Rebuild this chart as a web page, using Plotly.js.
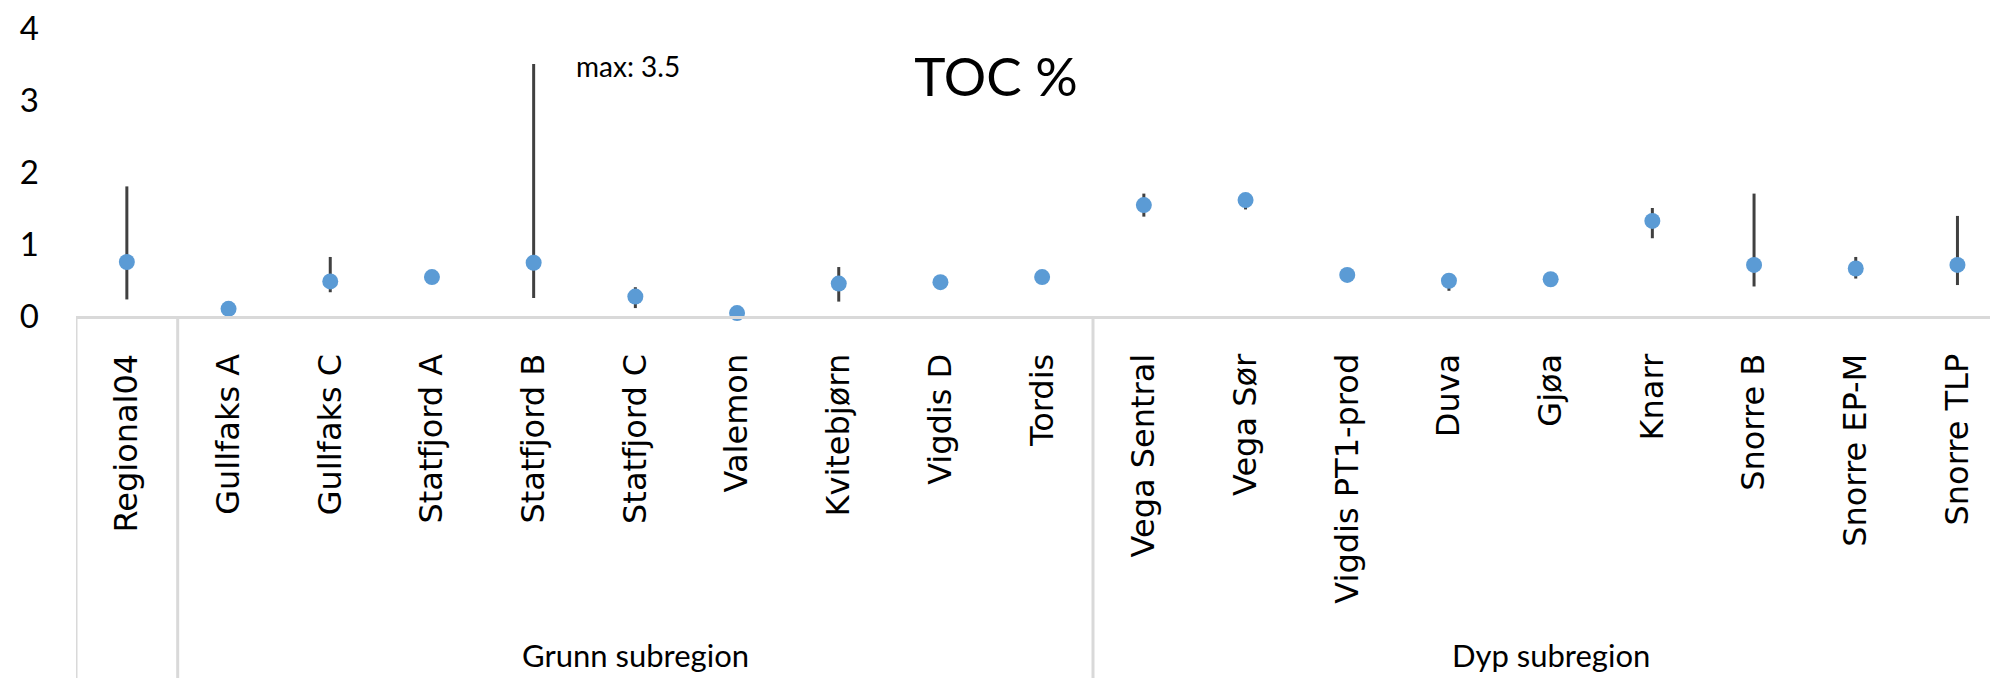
<!DOCTYPE html>
<html>
<head>
<meta charset="utf-8">
<script src="https://cdn.plot.ly/plotly-3.0.1.min.js"></script>
<style>
  html, body { margin: 0; padding: 0; background: #ffffff; }
  #chart { width: 1990px; height: 678px; }
</style>
</head>
<body>
<div id="chart"></div>
<script>
// ---- Data ----
const categories = [
  "Regional04",
  "Gullfaks A", "Gullfaks C", "Statfjord A", "Statfjord B", "Statfjord C",
  "Valemon", "Kvitebjørn", "Vigdis D", "Tordis",
  "Vega Sentral", "Vega Sør", "Vigdis PT1-prod", "Duva", "Gjøa",
  "Knarr", "Snorre B", "Snorre EP-M", "Snorre TLP"
];
const groups = [
  "",
  "Grunn subregion", "Grunn subregion", "Grunn subregion", "Grunn subregion", "Grunn subregion",
  "Grunn subregion", "Grunn subregion", "Grunn subregion", "Grunn subregion",
  "Dyp subregion", "Dyp subregion", "Dyp subregion", "Dyp subregion", "Dyp subregion",
  "Dyp subregion", "Dyp subregion", "Dyp subregion", "Dyp subregion"
];
const tocMean = [0.75, 0.10, 0.48, 0.54, 0.74, 0.27, 0.04, 0.45, 0.47, 0.54,
                 1.54, 1.61, 0.57, 0.49, 0.51, 1.32, 0.71, 0.66, 0.71];
const tocMax  = [1.80, 0.10, 0.82, 0.54, 3.50, 0.40, 0.04, 0.68, 0.47, 0.54,
                 1.70, 1.61, 0.57, 0.59, 0.51, 1.50, 1.70, 0.82, 1.39];
const tocMin  = [0.23, 0.10, 0.33, 0.54, 0.25, 0.11, 0.04, 0.20, 0.47, 0.54,
                 1.38, 1.48, 0.52, 0.35, 0.51, 1.08, 0.41, 0.52, 0.43];
const yTicks = [0, 1, 2, 3, 4];
const chartTitle = "TOC %";

// ---- Build ----
const idx = categories.map((_, i) => i);
const errPlus = tocMean.map((m, i) => tocMax[i] - m);
const errMinus = tocMean.map((m, i) => m - tocMin[i]);

const trace = {
  type: "scatter",
  mode: "markers",
  x: idx,
  y: tocMean,
  cliponaxis: false,
  marker: { color: "#5B9BD5", size: 16, symbol: "circle" },
  error_y: {
    type: "data",
    symmetric: false,
    array: errPlus,
    arrayminus: errMinus,
    color: "#404040",
    thickness: 3,
    width: 0
  },
  hoverinfo: "skip"
};

// group boundaries and centres from the groups array
const shapes = [];
const annotations = [];
const lineStyle = { color: "#d9d9d9", width: 3 };
const bottomPaper = -362 / 288;
shapes.push({ type: "line", xref: "x", yref: "paper", x0: -0.5, x1: -0.5, y0: 0, y1: bottomPaper, line: lineStyle, layer: "below" });
let start = 0;
for (let i = 1; i <= groups.length; i++) {
  if (i === groups.length || groups[i] !== groups[start]) {
    if (i < groups.length) {
      shapes.push({ type: "line", xref: "x", yref: "paper", x0: i - 0.5, x1: i - 0.5, y0: 0, y1: bottomPaper, line: lineStyle, layer: "below" });
    }
    if (groups[start]) {
      annotations.push({
        xref: "x", yref: "paper",
        x: (start + i - 1) / 2,
        y: bottomPaper + (678 - 655) / 288,
        text: groups[start],
        showarrow: false,
        xanchor: "center", yanchor: "middle",
        font: { family: "Lato, 'Open Sans', sans-serif", size: 31, color: "#000000" }
      });
    }
    start = i;
  }
}

// max label for the series maximum
let maxI = 0;
tocMax.forEach((v, i) => { if (v > tocMax[maxI]) maxI = i; });
annotations.push({
  xref: "x", yref: "y",
  x: maxI, y: tocMax[maxI],
  text: "max: " + tocMax[maxI].toFixed(1),
  showarrow: false,
  xanchor: "left", yanchor: "middle",
  xshift: 40, yshift: -2,
  font: { family: "Lato, 'Open Sans', sans-serif", size: 28, color: "#000000" }
});

const layout = {
  width: 1990,
  height: 678,
  margin: { l: 76, r: 0, t: 28, b: 362, pad: 0 },
  paper_bgcolor: "#ffffff",
  plot_bgcolor: "#ffffff",
  showlegend: false,
  title: {
    text: chartTitle,
    xref: "container", yref: "container",
    x: 996 / 1990, y: 1 - 77 / 678,
    xanchor: "center", yanchor: "middle",
    font: { family: "Lato, 'Open Sans', sans-serif", size: 53, color: "#000000" }
  },
  xaxis: {
    type: "linear",
    range: [-0.5, (1990 - 76) / 101.7 - 0.5],
    tickmode: "array",
    tickvals: idx,
    ticktext: categories,
    tickangle: -90,
    ticks: "",
    ticklabelstandoff: 22,
    showgrid: false,
    zeroline: false,
    showline: true,
    linecolor: "#d9d9d9",
    linewidth: 3,
    fixedrange: true,
    tickfont: { family: "'DejaVu Sans', Verdana, sans-serif", size: 32, color: "#000000" }
  },
  yaxis: {
    range: [0, 4],
    tickmode: "array",
    tickvals: yTicks,
    ticktext: yTicks.map(String),
    ticks: "",
    ticklabelstandoff: 36,
    showgrid: false,
    zeroline: false,
    showline: false,
    fixedrange: true,
    tickfont: { family: "Lato, 'Open Sans', sans-serif", size: 33, color: "#000000" }
  },
  shapes: shapes,
  annotations: annotations
};

Plotly.newPlot("chart", [trace], layout, { displayModeBar: false, staticPlot: true });
</script>
</body>
</html>
